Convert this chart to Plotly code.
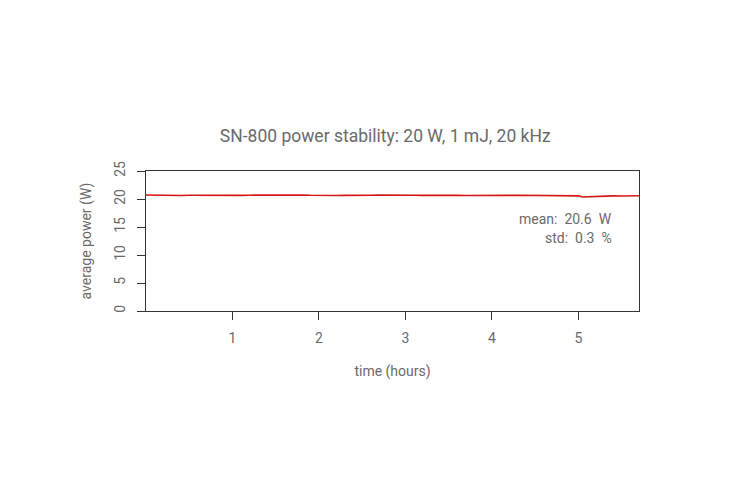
import plotly.graph_objects as go

time_hours = [0.0, 0.1, 0.2, 0.3, 0.4, 0.5, 0.6, 0.7, 0.8, 0.9,
              1.0, 1.1, 1.2, 1.3, 1.4, 1.5, 1.6, 1.7, 1.8, 1.9,
              2.0, 2.1, 2.2, 2.3, 2.4, 2.5, 2.6, 2.7, 2.8, 2.9,
              3.0, 3.1, 3.2, 3.3, 3.4, 3.5, 3.6, 3.7, 3.8, 3.9,
              4.0, 4.1, 4.2, 4.3, 4.4, 4.5, 4.6, 4.7, 4.8, 4.9,
              5.0, 5.05, 5.1, 5.15, 5.2, 5.3, 5.4, 5.5, 5.6, 5.7]
power_w = [20.72, 20.68, 20.62, 20.58, 20.63, 20.66, 20.64, 20.67, 20.65, 20.69,
           20.66, 20.64, 20.68, 20.70, 20.67, 20.71, 20.74, 20.76, 20.72, 20.66,
           20.62, 20.60, 20.63, 20.65, 20.62, 20.64, 20.66, 20.69, 20.71, 20.68,
           20.70, 20.67, 20.65, 20.68, 20.66, 20.63, 20.64, 20.62, 20.60, 20.61,
           20.59, 20.62, 20.64, 20.66, 20.63, 20.65, 20.62, 20.60, 20.58, 20.57,
           20.55, 20.36, 20.40, 20.48, 20.52, 20.54, 20.55, 20.53, 20.56, 20.58]
x_ticks = [1, 2, 3, 4, 5]
y_ticks = [0, 5, 10, 15, 20, 25]
stats_lines = ["mean:  20.6  W", "std:  0.3  %"]

FONT = "Roboto"
GREY = "#6a6a6a"
AX = "#333333"

fig = go.Figure()
fig.add_trace(go.Scatter(x=time_hours, y=power_w, mode="lines",
                         line=dict(color="#d81515", width=1.6), showlegend=False,
                         hoverinfo="skip"))

axis_common = dict(showgrid=False, zeroline=False, showline=True, mirror=True,
                   linecolor=AX, linewidth=1, ticks="outside", ticklen=8,
                   tickcolor=AX, tickwidth=1,
                   tickfont=dict(family=FONT, size=14, color=GREY),
                   title_font=dict(family=FONT, size=14, color=GREY))

fig.update_xaxes(range=[0, 5.70], tickvals=x_ticks, ticktext=[str(v) for v in x_ticks],
                 ticklabelstandoff=6,
                 title_text="time (hours)", title_standoff=21, **axis_common)
fig.update_yaxes(range=[0, 25], tickvals=y_ticks, ticktext=[str(v) for v in y_ticks],
                 tickangle=-90, ticklabelstandoff=6,
                 title_text="average power (W)", title_standoff=17,
                 **axis_common)

fig.add_annotation(x=0.95, y=0.66, xref="paper", yref="paper", xanchor="right",
                   yanchor="middle", text=stats_lines[0], showarrow=False,
                   font=dict(family=FONT, size=14, color=GREY))
fig.add_annotation(x=0.95, y=0.525, xref="paper", yref="paper", xanchor="right",
                   yanchor="middle", text=stats_lines[1], showarrow=False,
                   font=dict(family=FONT, size=14, color=GREY))

fig.update_layout(
    width=750, height=500,
    margin=dict(l=138, r=119, t=163, b=197),
    paper_bgcolor="white", plot_bgcolor="white",
    title=dict(text="SN-800 power stability: 20 W, 1 mJ, 20 kHz",
               x=0.503, xanchor="center", y=0.745, yanchor="middle",
               font=dict(family=FONT, size=17.5, color=GREY)),
)

fig.write_html("out.html")
